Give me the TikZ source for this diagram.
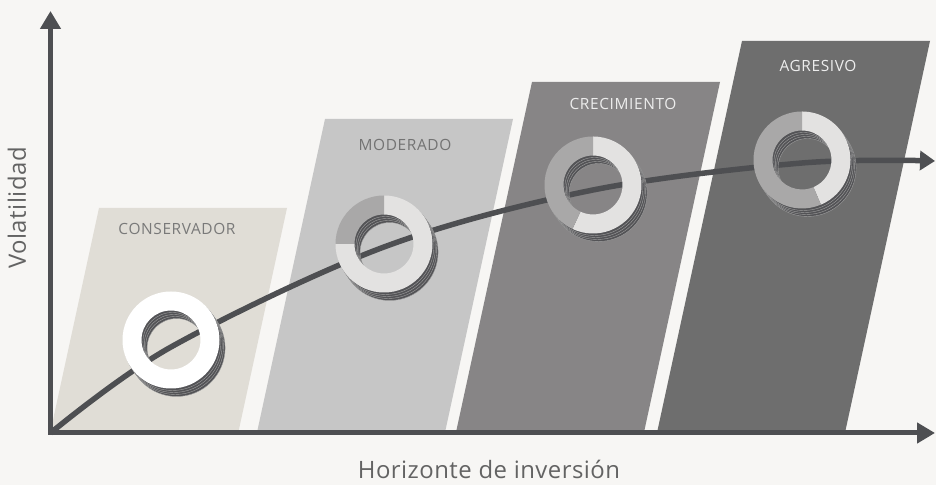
\documentclass[tikz,border=0pt]{standalone}
\usepackage{fontspec}
\usetikzlibrary{arrows.meta}
\newfontfamily\diagfont[LetterSpace=4]{Open Sans}
\newfontfamily\axisfont[LetterSpace=2]{Open Sans}
\definecolor{paper}{HTML}{F7F6F4}
\definecolor{axisgray}{HTML}{4E4F52}
\definecolor{labelgray}{HTML}{636363}
\definecolor{consfill}{HTML}{E0DDD6}
\definecolor{modfill}{HTML}{C6C6C6}
\definecolor{crefill}{HTML}{878586}
\definecolor{agrfill}{HTML}{6E6E6E}
\definecolor{ringlight}{HTML}{E3E2E1}
\definecolor{ringdark}{HTML}{A9A8A8}
\definecolor{ringshade}{HTML}{535356}
\tikzset{
  axis/.style={line width=5bp, draw=axisgray, line cap=rect,
               -{Triangle[length=18bp,width=20bp]}},
  trend/.style={line width=5.5bp, draw=axisgray,
                -{Triangle[length=15bp,width=19bp]}},
  boxlabel/.style={font=\diagfont\fontsize{15.5}{18}\selectfont},
  axislabel/.style={font=\axisfont\fontsize{24}{28}\selectfont, text=labelgray},
}
% one coloured part of a ring
\newcommand{\ringpart}[4]{%
  \fill[#4] ([shift={(#2:48.5)}]#1) arc[start angle=#2, end angle=#3, radius=48.5]
    -- ([shift={(#3:29.5)}]#1) arc[start angle=#3, end angle=#2, radius=29.5] -- cycle;}
% stacked shadow under a ring
\newcommand{\ringshadow}[1]{%
  \foreach \k in {4,3,2,1}
    \filldraw[fill=ringshade, draw=gray!75, line width=0.4bp, even odd rule]
      ([shift={(1.4*\k,-2*\k)}]#1) circle[radius=48.5]
      ([shift={(1.4*\k,-2*\k)}]#1) circle[radius=29.5];}

\begin{document}
\begin{tikzpicture}[x=1bp, y=1bp]
    \fill[paper] (0,0) rectangle (936,485);
    \useasboundingbox (0,0) rectangle (936,485);

    % profiles
    \foreach \tl/\ty/\col in {99/277/consfill, 325/366/modfill, 532/403/crefill, 742/444/agrfill}
        \fill[\col] (\tl,\ty) -- ++(188,0) -- ++({-0.217*(\ty-52)},{52-\ty}) -- ++(-188,0) -- cycle;

    \node[boxlabel, text=gray!95!black] (conservador) at (177,256) {CONSERVADOR};
    \node[boxlabel, text=gray!90!black] (moderado) at (405,340) {MODERADO};
    \node[boxlabel, text=white!93!black] (crecimiento) at (623,381) {CRECIMIENTO};
    \node[boxlabel, text=white!93!black] (agresivo) at (818,419) {AGRESIVO};

    % trend
    \draw[trend] plot[smooth, tension=0.55] coordinates
        {(50.5,52) (171,138) (384,238) (593,295) (802,322) (935,324)};

    % rings
    \coordinate (r1) at (171,145);
    \coordinate (r2) at (384,241);
    \coordinate (r3) at (593,300);
    \coordinate (r4) at (802,325);
    \ringshadow{r1}
    \fill[white, even odd rule] (r1) circle[radius=48.5] (r1) circle[radius=29.5];
    \ringshadow{r2}
    \ringpart{r2}{180}{450}{ringlight}
    \ringpart{r2}{90}{180}{ringdark}
    \ringshadow{r3}
    \ringpart{r3}{-115}{90}{ringlight}
    \ringpart{r3}{90}{245}{ringdark}
    \ringshadow{r4}
    \ringpart{r4}{-67}{90}{ringlight}
    \ringpart{r4}{90}{293}{ringdark}

    % axes
    \coordinate (origin) at (50.5,52);
    \coordinate (ytip) at (50.5,474);
    \coordinate (xtip) at (935,52);
    \draw[axis] (origin) -- (ytip);
    \draw[axis] (origin) -- (xtip);

    \node[axislabel, rotate=90] (volatilidad) at (17,277) {Volatilidad};
    \node[axislabel] (horizonte) at (489,16) {Horizonte de inversión};
\end{tikzpicture}
\end{document}
